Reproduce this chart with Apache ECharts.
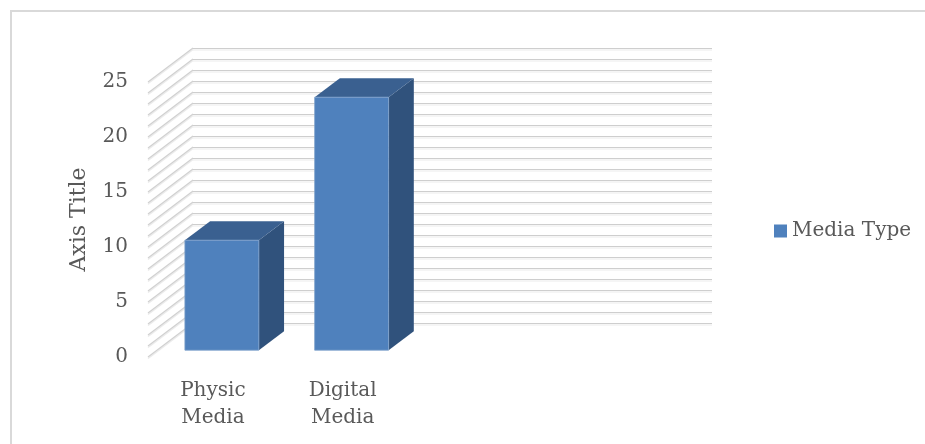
<!DOCTYPE html>
<html>
<head>
<meta charset="utf-8">
<script src="https://cdn.jsdelivr.net/npm/echarts@6/dist/echarts.min.js"></script>
<style>
  html, body { margin: 0; padding: 0; background: #fff; }
  #main { width: 925px; height: 444px; }
</style>
</head>
<body>
<div id="main"></div>
<script>
// chart data
var categories = ['Physic Media', 'Digital Media']
var mediaType = [10, 23]
var yTicks = [0, 5, 10, 15, 20, 25]

// 3d look: depth vector of the walls and where the bars sit in it
var DX = 45
var DY = -34
var F1 = 0.2
var F2 = 0.76
var FONT = 'DejaVu Serif'

var gridLines = []
for (var i = 0; i <= yTicks[yTicks.length - 1]; i++) gridLines.push(i)

var chart = echarts.init(document.getElementById('main'))

function renderBar (params, api) {
  var idx = api.value(0)
  var base = api.coord([idx, 0])
  var top = api.coord([idx, api.value(1)])
  var w = api.size([1, 0])[0] * 0.57
  var fx = base[0] + DX * F1
  var fy = base[1] + DY * F1
  var ty = top[1] + DY * F1
  var bdx = DX * (F2 - F1)
  var bdy = DY * (F2 - F1)
  var l = fx - w / 2
  var r = fx + w / 2
  return {
    type: 'group',
    children: [
      {
        type: 'polygon',
        shape: { points: [[r, ty], [r + bdx, ty + bdy], [r + bdx, fy + bdy], [r, fy]] },
        style: { fill: '#30527c' }
      },
      {
        type: 'polygon',
        shape: { points: [[l, ty], [r, ty], [r + bdx, ty + bdy], [l + bdx, ty + bdy]] },
        style: { fill: '#3a6090' }
      },
      {
        type: 'rect',
        shape: { x: l, y: ty, width: w, height: fy - ty },
        style: { fill: '#4f81bd', stroke: '#7fa1cc', lineWidth: 0.8 }
      }
    ]
  }
}

function renderSideLine (params, api) {
  var p = api.coord([0, api.value(0)])
  var x = params.coordSys.x
  return {
    type: 'group',
    children: [
      {
        type: 'line',
        shape: { x1: x, y1: p[1] + 1.5, x2: x + DX, y2: p[1] + DY + 1.5 },
        style: { stroke: '#ebebeb', lineWidth: 1.5 }
      },
      {
        type: 'line',
        shape: { x1: x, y1: p[1], x2: x + DX, y2: p[1] + DY },
        style: { stroke: '#d0d0d0', lineWidth: 1.2 }
      }
    ]
  }
}

var option = {
  animation: false,
  backgroundColor: '#fff',
  textStyle: { fontFamily: FONT },
  graphic: [{
    type: 'rect',
    shape: { x: 11, y: 11, width: 930, height: 450 },
    style: { fill: 'none', stroke: '#d9d9d9', lineWidth: 2 }
  }],
  legend: {
    data: ['Media Type'],
    left: 774,
    top: 221,
    padding: 0,
    icon: 'rect',
    itemWidth: 13,
    itemHeight: 13,
    itemGap: 6,
    textStyle: { fontFamily: FONT, fontSize: 20, color: '#595959' }
  },
  grid: [
    // front plane (floor front edge)
    { left: 148, right: 258, top: 82, bottom: 87 },
    // back wall
    { left: 193, right: 213, top: 48, bottom: 121 }
  ],
  xAxis: [
    {
      gridIndex: 0,
      type: 'category',
      data: categories,
      max: 3,
      axisLine: { show: false },
      axisTick: { show: false },
      axisLabel: {
        margin: 20,
        fontFamily: FONT,
        fontSize: 20,
        lineHeight: 27,
        color: '#595959',
        formatter: function (v) { return v.replace(' ', '\n') }
      }
    },
    {
      gridIndex: 1,
      type: 'category',
      data: categories,
      max: 3,
      show: false
    }
  ],
  yAxis: [
    {
      gridIndex: 0,
      type: 'value',
      min: 0,
      max: 25,
      interval: 5,
      name: 'Axis Title',
      nameLocation: 'middle',
      nameRotate: 90,
      nameGap: 58,
      nameTextStyle: { fontFamily: FONT, fontSize: 22, color: '#595959' },
      axisLine: { show: false },
      axisTick: { show: false },
      splitLine: { show: false },
      axisLabel: { margin: 20, fontFamily: FONT, fontSize: 20, color: '#595959', padding: [8, 0, 0, 0] }
    },
    {
      gridIndex: 1,
      type: 'value',
      min: 0,
      max: 25,
      interval: 1,
      axisLine: { show: false },
      axisTick: { show: false },
      axisLabel: { show: false },
      splitLine: {
        lineStyle: {
          color: '#cecece',
          width: 1.2,
          shadowColor: '#ebebeb',
          shadowOffsetY: 1.5,
          shadowBlur: 0
        }
      }
    }
  ],
  series: [
    {
      name: 'walls',
      type: 'custom',
      xAxisIndex: 0,
      yAxisIndex: 0,
      silent: true,
      clip: false,
      renderItem: renderSideLine,
      data: gridLines.map(function (v) { return [v] }),
      z: 1
    },
    {
      name: 'Media Type',
      type: 'custom',
      xAxisIndex: 0,
      yAxisIndex: 0,
      clip: false,
      itemStyle: { color: '#4f81bd' },
      renderItem: renderBar,
      data: mediaType.map(function (v, i) { return [i, v] }),
      z: 5
    }
  ]
}

chart.setOption(option)
</script>
</body>
</html>
